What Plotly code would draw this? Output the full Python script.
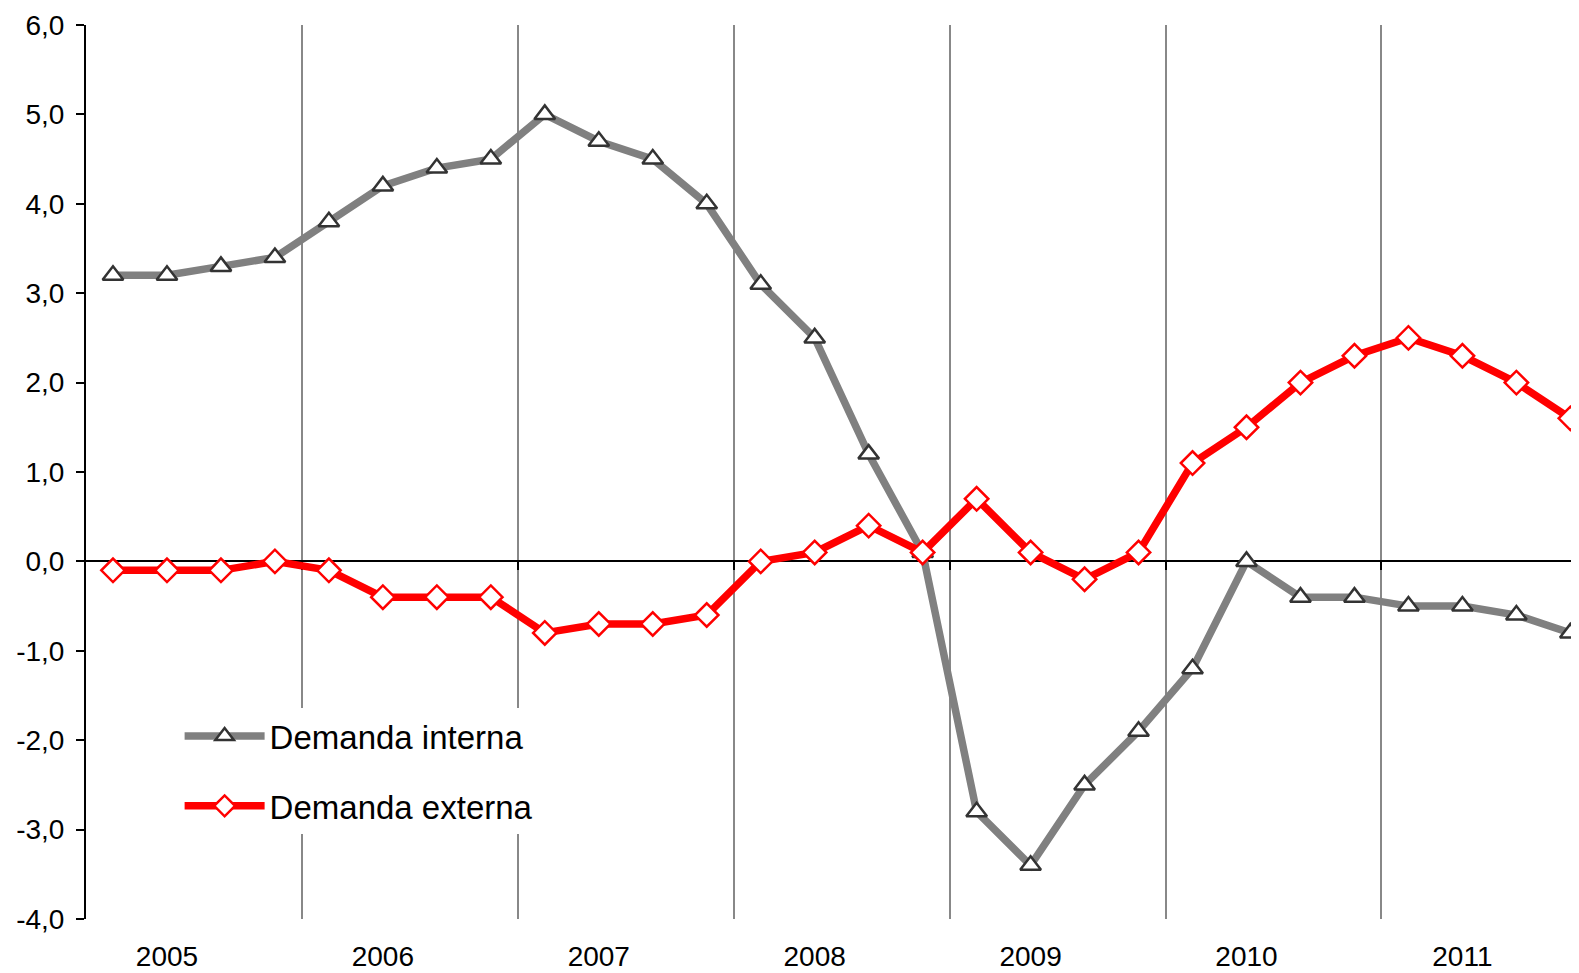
import plotly.graph_objects as go

years = ["2005", "2006", "2007", "2008", "2009", "2010", "2011"]
quarters = list(range(28))
interna = [3.2, 3.2, 3.3, 3.4,
           3.8, 4.2, 4.4, 4.5,
           5.0, 4.7, 4.5, 4.0,
           3.1, 2.5, 1.2, 0.1,
           -2.8, -3.4, -2.5, -1.9,
           -1.2, 0.0, -0.4, -0.4,
           -0.5, -0.5, -0.6, -0.8]
externa = [-0.1, -0.1, -0.1, 0.0,
           -0.1, -0.4, -0.4, -0.4,
           -0.8, -0.7, -0.7, -0.6,
           0.0, 0.1, 0.4, 0.1,
           0.7, 0.1, -0.2, 0.1,
           1.1, 1.5, 2.0, 2.3,
           2.5, 2.3, 2.0, 1.6]
y_ticks = [-4, -3, -2, -1, 0, 1, 2, 3, 4, 5, 6]
y_labels = ["-4,0", "-3,0", "-2,0", "-1,0", "0,0", "1,0", "2,0", "3,0", "4,0", "5,0", "6,0"]

# year label sits under the second quarter of each year
year_label_pos = [i * 4 + 1 for i in range(len(years))]
year_bounds = [i * 4 + 3.5 for i in range(len(years) - 1)]

FONT = "Liberation Sans, Arial, sans-serif"

fig = go.Figure()
# helper (invisible) trace so the zero-line axis with year separators is drawn
fig.add_trace(go.Scatter(
    x=quarters, y=interna, xaxis="x2", yaxis="y", mode="lines",
    line=dict(width=0, color="rgba(0,0,0,0)"), showlegend=False, hoverinfo="skip",
))
fig.add_trace(go.Scatter(
    x=quarters, y=interna, name="Demanda interna", mode="lines+markers",
    line=dict(color="#808080", width=7.5),
    marker=dict(symbol="triangle-up", size=18, color="white",
                line=dict(color="#333333", width=2.5)),
    legendgroup="a",
))
fig.add_trace(go.Scatter(
    x=quarters, y=externa, name="Demanda externa", mode="lines+markers",
    line=dict(color="#FF0000", width=7.5),
    marker=dict(symbol="diamond", size=18, color="white",
                line=dict(color="#FF0000", width=2.5)),
    legendgroup="b",
))

xr = [-0.5, 27.16]
fig.update_layout(
    width=1571, height=965,
    margin=dict(l=78, r=0, t=17, b=54, autoexpand=False),
    paper_bgcolor="white", plot_bgcolor="white",
    font=dict(family=FONT, color="black"),
    showlegend=True,
    legend=dict(x=0.0627, y=0.236, xanchor="left", yanchor="top",
                bgcolor="white", font=dict(size=33, family=FONT),
                itemwidth=80, tracegroupgap=24),
    xaxis=dict(range=xr, tickmode="array", tickvals=year_label_pos, ticktext=years,
               showline=False, showgrid=False, zeroline=False, automargin=False,
               ticks="outside", ticklen=12, tickcolor="rgba(0,0,0,0)",
               tickfont=dict(size=28, family=FONT)),
    xaxis2=dict(range=xr, overlaying="x", anchor="free", position=0.4,
                tickmode="array", tickvals=year_bounds, showticklabels=False,
                ticks="outside", ticklen=8, tickwidth=2, tickcolor="black",
                showline=True, linecolor="black", linewidth=2,
                showgrid=True, gridcolor="#888888", gridwidth=2,
                zeroline=False, layer="below traces", automargin=False),
    yaxis=dict(range=[-4, 6], tickmode="array", tickvals=y_ticks, ticktext=y_labels,
               showline=True, linecolor="black", linewidth=2,
               ticks="outside", ticklen=8, tickwidth=2, tickcolor="black",
               showgrid=False, zeroline=False, ticklabelstandoff=6, automargin=False,
               tickfont=dict(size=28, family=FONT)),
)

fig.write_html("out.html")
